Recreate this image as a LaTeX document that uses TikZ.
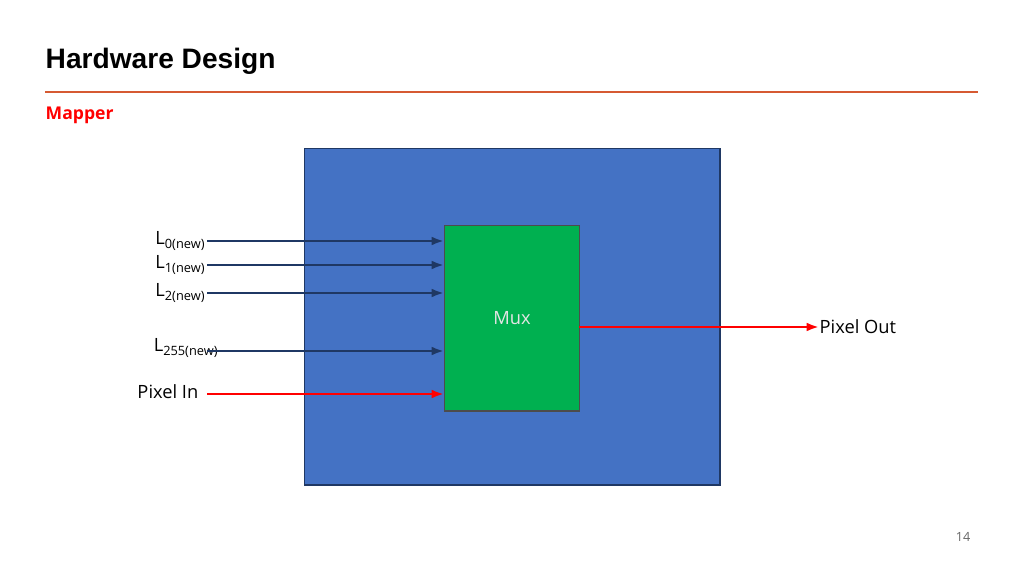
\documentclass[tikz,border=0pt]{standalone}
\usepackage{fontspec}
\setmainfont{Open Sans}
\newfontfamily\titlefont{Liberation Sans}
\usetikzlibrary{arrows.meta}
\definecolor{slideblue}{RGB}{68,114,196}
\definecolor{muxgreen}{RGB}{0,176,80}
\definecolor{rulecol}{RGB}{214,90,50}
\definecolor{navy}{RGB}{31,56,100}
\begin{document}
\begin{tikzpicture}[x=0.01cm, y=-0.01cm,
    lbl/.style={font=\fontsize{5.2pt}{6pt}\selectfont, inner sep=0pt},
    inarrow/.style={-{Latex[length=3.5pt,width=2.5pt]}, navy, line width=0.7pt},
    redarrow/.style={-{Latex[length=3.5pt,width=2.5pt]}, red, line width=0.7pt}
]
    \useasboundingbox (0,0) rectangle (1024,576);

    % --- Header ---
    \node[anchor=west, inner sep=0pt, font=\titlefont\bfseries\fontsize{8pt}{9pt}\selectfont] (title) at (45,61) {Hardware Design};
    \draw[rulecol, line width=0.6pt] (45,92) -- (978,92);
    \node[anchor=west, inner sep=0pt, text=red, font=\bfseries\fontsize{5pt}{6pt}\selectfont] (mapper) at (45,115) {Mapper};

    % --- Blocks ---
    \node[draw=navy, fill=slideblue, minimum width=4.15cm, minimum height=3.36cm, anchor=north west, inner sep=0pt] (mapperbox) at (304,148) {};
    \node[draw=black!70, fill=muxgreen, minimum width=1.35cm, minimum height=1.85cm, anchor=north west, inner sep=0pt] (mux) at (444,225) {};
    \node[lbl, text=white!90!black] (muxlabel) at (512,318) {Mux};

    % --- Inputs ---
    \node[lbl, anchor=east] (l0) at (207,241) {L\textsubscript{0(new)}};
    \node[lbl, anchor=east] (l1) at (207,265) {L\textsubscript{1(new)}};
    \node[lbl, anchor=east] (l2) at (207,293) {L\textsubscript{2(new)}};
    \node[lbl, anchor=east] (l255) at (220,348) {L\textsubscript{255(new)}};
    \node[lbl, anchor=east] (pin) at (199,392) {Pixel In};

    \coordinate (m0) at (444,241);
    \coordinate (m1) at (444,265);
    \coordinate (m2) at (444,293);
    \coordinate (m255) at (444,351);
    \coordinate (min) at (444,394);
    \draw[inarrow] (207,241) -- (m0);
    \draw[inarrow] (207,265) -- (m1);
    \draw[inarrow] (207,293) -- (m2);
    \draw[inarrow] (207,351) -- (m255);
    \draw[redarrow] (207,394) -- (min);

    % --- Output ---
    \node[lbl, anchor=west] (pout) at (819,327) {Pixel Out};
    \draw[redarrow] (579,327) -- (pout.west);

    \node[lbl, text=black!60, font=\fontsize{3.6pt}{4pt}\selectfont] (page) at (963,537) {14};
\end{tikzpicture}
\end{document}
